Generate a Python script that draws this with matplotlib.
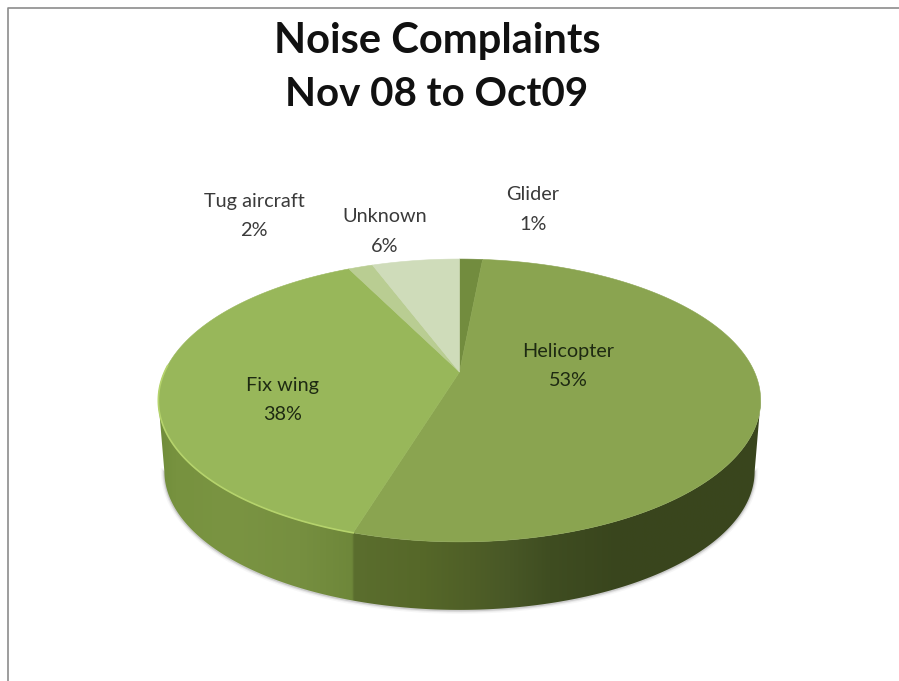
import numpy as np
import matplotlib.pyplot as plt
from matplotlib.colors import LinearSegmentedColormap
from matplotlib.patches import Polygon

# clockwise from 12 o'clock, shares measured from the slice edges
categories = ['Glider', 'Helicopter', 'Fix wing', 'Tug aircraft', 'Unknown']
shares = [1.5, 53.2, 38.0, 1.6, 5.7]
percent_labels = ['1%', '53%', '38%', '2%', '6%']
slice_colors = ['#728c3e', '#8aa450', '#98b75a', '#b9cd92', '#cfdcba']

# pie geometry in pixels
cx, cy = 459.5, 372
rx, ry = 295, 135.7
persp = 0.2013
drop = 71.4
shrink = 0.98


def project(theta, bottom=False):
    u = np.sin(theta)
    v = np.cos(theta)
    w = 1 + persp * v
    x = rx * u / w
    y = -ry * v / w
    if bottom:
        return cx + shrink * x, cy + drop + shrink * y
    return cx + x, cy + y


def wedge_points(start, end):
    theta = np.linspace(start, end, 200)
    x, y = project(theta)
    return np.column_stack([np.r_[cx, x], np.r_[cy, y]])


fig = plt.figure(figsize=(8.99, 6.81), dpi=100)
ax = fig.add_axes([0, 0, 1, 1])
ax.set_xlim(0, 899)
ax.set_ylim(681, 0)
ax.axis('off')

# frame of the pasted chart, only top and left show
ax.plot([7.5, 7.5, 899], [681, 7.5, 7.5], color='#8c8c8c', lw=1.2)

# side wall, visible from one silhouette point to the other
t_right = np.pi - np.arcsin(np.sqrt(1 - persp ** 2))
t_left = 2 * np.pi - t_right
arc = np.linspace(t_right, t_left, 300)
top_x, top_y = project(arc)
bot_x, bot_y = project(arc, bottom=True)
wall_pts = np.column_stack([np.r_[top_x, bot_x[::-1]], np.r_[top_y, bot_y[::-1]]])

# soft shadow under the wall
for lw, alpha in [(5, 0.05), (3, 0.10), (1.5, 0.18)]:
    ax.plot(bot_x, bot_y + 0.5, color='#555555', lw=lw, alpha=alpha, zorder=1)

stops = [(157, '#6f8c3a'), (175, '#77923f'), (230, '#7a9442'), (300, '#768f40'),
         (352, '#6e873a'), (354, '#5b6e2e'), (420, '#566829'), (470, '#4f5f27'),
         (510, '#485726'), (550, '#3f4d21'), (620, '#39451d'), (762, '#3a461d')]
wall_cmap = LinearSegmentedColormap.from_list(
    'wall', [((x - 157) / (762 - 157), c) for x, c in stops], N=1024)
wall_patch = Polygon(wall_pts, closed=True, transform=ax.transData, fc='none', ec='none')
ax.add_patch(wall_patch)
img = ax.imshow(np.linspace(0, 1, 1024)[None, :], cmap=wall_cmap, aspect='auto',
                extent=[157, 762, 620, 390], zorder=2)
img.set_clip_path(wall_patch)
ax.set_xlim(0, 899)
ax.set_ylim(681, 0)

# top face
edges = 2 * np.pi * np.cumsum([0] + shares) / sum(shares)
for i, color in enumerate(slice_colors):
    ax.add_patch(Polygon(wedge_points(edges[i], edges[i + 1]), closed=True,
                         fc=color, ec=color, lw=0.4, zorder=3))

# light rim along the front of the fix wing slice
rim = np.linspace(edges[2], t_left + 0.25, 120)
rim_x, rim_y = project(rim)
ax.plot(rim_x, rim_y, color='#b5d36c', lw=1.2, zorder=4)

# title
ax.text(437, 41, 'Noise Complaints', family='Lato', weight='bold', fontsize=30,
        ha='center', va='center', color='#111111', zorder=5)
ax.text(437, 95, 'Nov 08 to Oct09', family='Lato', weight='bold', fontsize=29,
        ha='center', va='center', color='#111111', zorder=5)

# labels, name on top and percentage below
label_xy = {'Glider': (533, 210), 'Helicopter': (568, 366), 'Fix wing': (283, 400),
            'Tug aircraft': (254, 216), 'Unknown': (385, 231)}
for name, pct in zip(categories, percent_labels):
    x, y = label_xy[name]
    inside = name in ('Helicopter', 'Fix wing')
    color = '#1e2a12' if inside else '#3a3a3a'
    ax.text(x, y - 15, name, family='Lato', fontsize=14.3, ha='center', va='center',
            color=color, zorder=5)
    ax.text(x, y + 15, pct, family='Lato', fontsize=14.3, ha='center', va='center',
            color=color, zorder=5)

fig.savefig('out.png', dpi=100, facecolor='white')
